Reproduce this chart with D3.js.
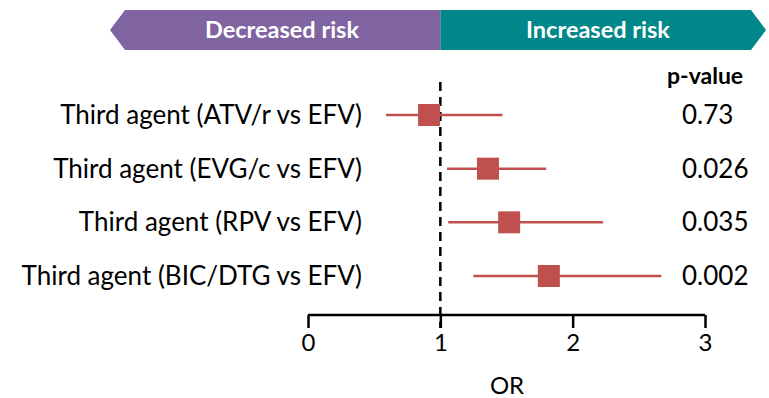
<!DOCTYPE html>
<html>
<head>
<meta charset="utf-8">
<script src="https://cdn.jsdelivr.net/npm/d3@7"></script>
<style>
body { margin: 0; background: #fff; }
text { font-family: Lato, "Open Sans", sans-serif; }
</style>
</head>
<body>
<div id="chart"></div>
<script>
var width = 769, height = 398
var labels = ["Third agent (ATV/r vs EFV)", "Third agent (EVG/c vs EFV)", "Third agent (RPV vs EFV)", "Third agent (BIC/DTG vs EFV)"]
var orValues = [0.915, 1.36, 1.52, 1.82]
var ciLow = [0.59, 1.05, 1.06, 1.25]
var ciHigh = [1.47, 1.80, 2.23, 2.67]
var pValues = ["0.73", "0.026", "0.035", "0.002"]
var ticks = [0, 1, 2, 3]

var svg = d3.select("#chart").append("svg").attr("width", width).attr("height", height)

var x = d3.scaleLinear().domain([0, 3]).range([308, 705])
var y = d3.scalePoint().domain(labels).range([115, 276])

// banner arrows
var mid = x(1)
svg.append("path")
   .attr("d", "M" + mid + ",10 L125,10 L110,30 L125,50 L" + mid + ",50 Z")
   .attr("fill", "#8064A2")
svg.append("path")
   .attr("d", "M" + mid + ",10 L751,10 L766,30 L751,50 L" + mid + ",50 Z")
   .attr("fill", "#00878A")
svg.append("text").attr("x", 282).attr("y", 38).attr("text-anchor", "middle")
   .attr("fill", "#fff").attr("font-weight", "bold").attr("font-size", 23.5).text("Decreased risk")
svg.append("text").attr("x", 598).attr("y", 38).attr("text-anchor", "middle")
   .attr("fill", "#fff").attr("font-weight", "bold").attr("font-size", 23.5).text("Increased risk")

// reference line
svg.append("line")
   .attr("x1", x(1)).attr("x2", x(1)).attr("y1", 82).attr("y2", 328)
   .style("stroke", "#000").style("stroke-width", 2.5).style("stroke-dasharray", "9,6")

// axis
var axis = svg.append("g").attr("transform", "translate(0,315)")
  .call(d3.axisBottom(x).tickValues(ticks).tickSize(13).tickPadding(6).tickFormat(d3.format("d")))
axis.select(".domain").attr("d", "M" + x(0) + ",0H" + x(3)).style("stroke-width", 2.5)
axis.selectAll(".tick line").style("stroke-width", 2.5)
axis.selectAll(".tick text").attr("font-size", 24).attr("fill", "#000")
  .style("font-family", "Lato, sans-serif")
svg.append("text").attr("x", 507).attr("y", 394).attr("text-anchor", "middle")
   .attr("font-size", 24).text("OR")

// rows
var rows = svg.selectAll("g.row").data(labels).enter().append("g").attr("class", "row")
rows.append("line")
    .attr("x1", function(d, i){ return x(ciLow[i]) })
    .attr("x2", function(d, i){ return x(ciHigh[i]) })
    .attr("y1", function(d){ return y(d) })
    .attr("y2", function(d){ return y(d) })
    .style("stroke", "#C0504D").style("stroke-width", 2.5)
rows.append("rect")
    .attr("x", function(d, i){ return x(orValues[i]) - 11 })
    .attr("y", function(d){ return y(d) - 11 })
    .attr("width", 22).attr("height", 22)
    .attr("fill", "#C0504D")
rows.append("text")
    .attr("x", 362).attr("y", function(d){ return y(d) + 9 })
    .attr("text-anchor", "end").attr("font-size", 26)
    .text(function(d){ return d })
rows.append("text")
    .attr("x", 682).attr("y", function(d){ return y(d) + 9 })
    .attr("font-size", 26)
    .text(function(d, i){ return pValues[i] })

svg.append("text").attr("x", 667).attr("y", 84).attr("font-weight", "bold")
   .attr("font-size", 23).text("p-value")
</script>
</body>
</html>
